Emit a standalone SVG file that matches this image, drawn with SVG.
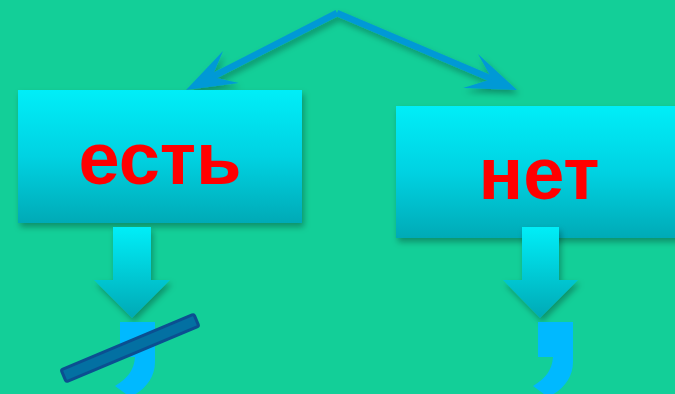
<svg xmlns="http://www.w3.org/2000/svg" width="675" height="394" viewBox="0 0 675 394">
<style>
.lbl{font-family:"Liberation Sans",Arial,sans-serif;font-weight:bold;font-size:74px;fill:#ff0000;text-anchor:middle}
.box{fill:url(#boxg);filter:url(#sh)}
.down{fill:url(#downg);filter:url(#sh)}
.comma{fill:#00b9ff}
.line{stroke:#0199d6;stroke-width:6.5;fill:none}
.head{fill:#0199d6}
</style>
<defs>
<linearGradient id="boxg" x1="0" y1="0" x2="0" y2="1">
<stop offset="0" stop-color="#00eef8"/>
<stop offset="0.5" stop-color="#00d2e2"/>
<stop offset="1" stop-color="#00aab6"/>
</linearGradient>
<linearGradient id="downg" x1="0" y1="0" x2="0" y2="1">
<stop offset="0" stop-color="#00eef8"/>
<stop offset="1" stop-color="#00a9b5"/>
</linearGradient>
<filter id="sh" x="-20%" y="-20%" width="140%" height="150%">
<feDropShadow dx="2" dy="4" stdDeviation="3" flood-color="#000" flood-opacity="0.3"/>
</filter>
<path id="commaShape" d="M538,322 H573 V362 C573,378 563,390 548,397 L533,386 C546,378 552,370 553,357 H538 Z"/>
</defs>
<rect width="675" height="394" fill="#13cf98"/>
<g id="connectors" filter="url(#sh)">
<line class="line" x1="337" y1="13" x2="212" y2="77"/>
<polygon class="head" points="186,90 223,51 212,77 239,83"/>
<line class="line" x1="337" y1="13" x2="492" y2="79"/>
<polygon class="head" points="517,90 478,54 492,79 463,88"/>
</g>
<g id="node-est">
<rect class="box" x="18" y="90" width="284" height="133"/>
<text class="lbl" x="160" y="184">есть</text>
</g>
<g id="node-net">
<rect class="box" x="396" y="106" width="284" height="132"/>
<text class="lbl" x="539" y="199">нет</text>
</g>
<g id="arrow-left">
<polygon class="down" points="113,227 151,227 151,280 170,280 132,318 94,280 113,280"/>
</g>
<g id="arrow-right">
<polygon class="down" points="522,227 559,227 559,280 578,280 540,318 503,280 522,280"/>
</g>
<g id="comma-left">
<use href="#commaShape" class="comma" transform="translate(-418,0)"/>
<rect x="-72" y="-6.5" width="144" height="13" rx="2" fill="#0370a2" stroke="#0b4f91" stroke-width="3" transform="translate(130,348) rotate(-22.7)"/>
</g>
<g id="comma-right">
<use href="#commaShape" class="comma"/>
</g>
</svg>
